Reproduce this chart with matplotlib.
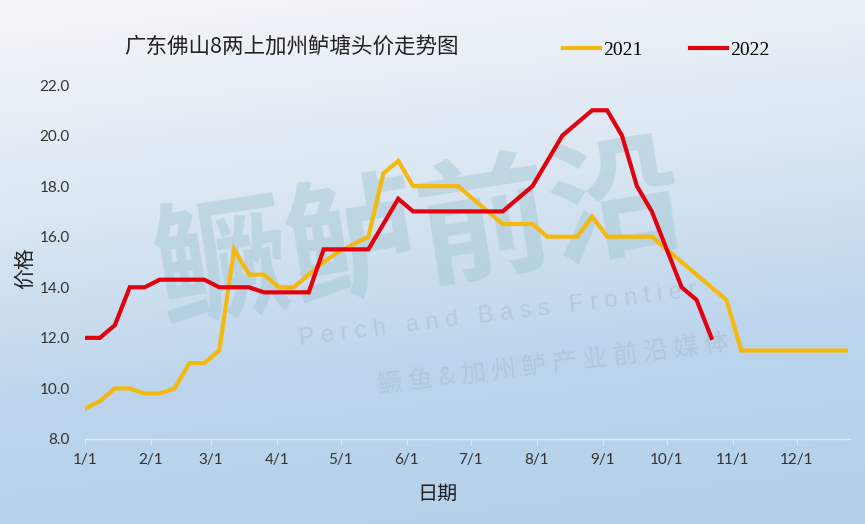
import numpy as np
import matplotlib
matplotlib.use("Agg")
import matplotlib.pyplot as plt
from matplotlib.colors import LinearSegmentedColormap

plt.rcParams['font.family'] = ['Noto Sans CJK SC', 'DejaVu Sans']

title = "广东佛山8两上加州鲈塘头价走势图"
series_names = ["2021", "2022"]
month_labels = ["1/1", "2/1", "3/1", "4/1", "5/1", "6/1", "7/1", "8/1", "9/1", "10/1", "11/1", "12/1"]
month_days = [0, 31, 59, 90, 120, 151, 181, 212, 243, 273, 304, 334]

# weekly prices starting 1/1
price_2021 = [9.2, 9.5, 10.0, 10.0, 9.8, 9.8, 10.0, 11.0, 11.0, 11.5,
              15.5, 14.5, 14.5, 14.0, 14.0, 14.5, 15.0, 15.4, 15.7, 16.0,
              18.5, 19.0, 18.0, 18.0, 18.0, 18.0, 17.5, 17.0, 16.5, 16.5,
              16.5, 16.0, 16.0, 16.0, 16.8, 16.0, 16.0, 16.0, 16.0, 15.5,
              15.0, 14.5, 14.0, 13.5, 11.5, 11.5, 11.5, 11.5, 11.5, 11.5,
              11.5, 11.5]
price_2022 = [12.0, 12.0, 12.5, 14.0, 14.0, 14.3, 14.3, 14.3, 14.3, 14.0,
              14.0, 14.0, 13.8, 13.8, 13.8, 13.8, 15.5, 15.5, 15.5, 15.5,
              16.5, 17.5, 17.0, 17.0, 17.0, 17.0, 17.0, 17.0, 17.0, 17.5,
              18.0, 19.0, 20.0, 20.5, 21.0, 21.0, 20.0, 18.0, 17.0, 15.5,
              14.0, 13.5, 12.0]

x21 = 7 * np.arange(len(price_2021))
x22 = 7 * np.arange(len(price_2022))

W, H = 865, 524
fig = plt.figure(figsize=(W / 100, H / 100), dpi=100)

# background gradient
bg = fig.add_axes([0, 0, 1, 1], zorder=0)
bg.set_axis_off()
cmap = LinearSegmentedColormap.from_list("bg", ["#f4f6fa", "#dde8f3", "#bcd5ec", "#b4d0ea"])
yy, xx = np.mgrid[0:1:200j, 0:1:300j]
grad = yy * 0.85 + xx * 0.15
bg.imshow(grad, cmap=cmap, aspect='auto', extent=[0, 1, 1, 0], vmin=0, vmax=1)
bg.set_xlim(0, 1)
bg.set_ylim(1, 0)

# watermark
fig.text(0.485, 0.545, "鳜鲈前沿", fontsize=96, fontweight='bold', color='#9cc3cf',
         alpha=0.42, rotation=9, ha='center', va='center', zorder=1)
fig.text(0.575, 0.4, "P e r c h   a n d   B a s s   F r o n t i e r", fontsize=17,
         color='#9fb4c4', alpha=0.4, rotation=7, ha='center', va='center', zorder=1,
         family=['Liberation Sans', 'DejaVu Sans'])
fig.text(0.64, 0.305, "鳜 鱼 & 加 州 鲈 产 业 前 沿 媒 体", fontsize=18,
         color='#9fb4c4', alpha=0.4, rotation=7, ha='center', va='center', zorder=1)

ax = fig.add_axes([85 / W, 1 - 439 / H, (850 - 85) / W, (439 - 85) / H], zorder=2)
ax.patch.set_alpha(0)
ax.plot(x21, price_2021, color='#F5B80F', lw=3.0, solid_joinstyle='miter', label=series_names[0])
ax.plot(x22, price_2022, color='#E3000F', lw=3.0, solid_joinstyle='miter', label=series_names[1])

ax.set_xlim(0, 359)
ax.set_ylim(8, 22)
ax.set_yticks(np.arange(8, 22.1, 2))
ax.set_yticklabels([f"{v:.1f}" for v in np.arange(8, 22.1, 2)])
ax.set_xticks(month_days)
ax.set_xticklabels(month_labels)
for s in ['top', 'right', 'left']:
    ax.spines[s].set_visible(False)
ax.spines['bottom'].set_color('#dfe7ef')
ax.spines['bottom'].set_linewidth(1.0)
ax.tick_params(axis='y', length=0, pad=11, labelsize=11, labelcolor='#333333')
ax.tick_params(axis='x', length=4, color='#dfe7ef', pad=6, labelsize=11, labelcolor='#333333')
for lab in ax.get_xticklabels() + ax.get_yticklabels():
    lab.set_family(['Lato', 'DejaVu Sans'])

fig.text(25 / W, 1 - 268 / H, "价格", rotation=90, ha='center', va='center', fontsize=15, color='#222222')
fig.text(438 / W, 1 - 494 / H, "日期", ha='center', va='center', fontsize=14.5, color='#222222')
fig.text(291 / W, 1 - 47 / H, title, ha='center', va='center', fontsize=15.5, color='#222222')

# legend
leg = ax.legend(loc='center left', bbox_to_anchor=(563 / W, 1 - 50 / H), bbox_transform=fig.transFigure,
                ncol=2, frameon=False, borderpad=0, borderaxespad=0, handlelength=1.9,
                handletextpad=0.15, columnspacing=2.45,
                prop={'family': ['Liberation Serif', 'DejaVu Serif'], 'size': 14})

fig.savefig("out.png", dpi=100)
